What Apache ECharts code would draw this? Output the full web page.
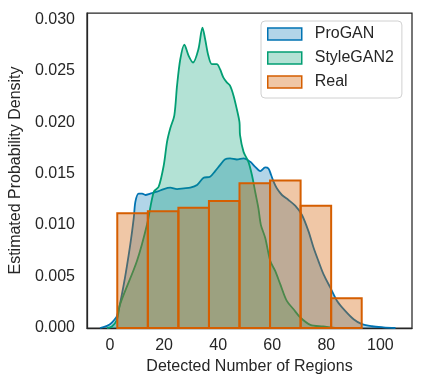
<!DOCTYPE html>
<html lang="en">
<head>
<meta charset="UTF-8">
<title>Detected regions</title>
<style>
  * { margin: 0; padding: 0; }
  body { background: #fff; }
  #chart { width: 423px; height: 389px; }
</style>
</head>
<body>
<div id="chart"></div>
<script src="https://cdn.jsdelivr.net/npm/echarts@6/dist/echarts.min.js"></script>
<script>
// KDE of ProGAN
const proganX = [-3.7, -1.1, 0.7, 2.6, 5.1, 7.5, 8.8, 9.4, 10.6, 11.9, 13.1, 14.9, 17.4, 19.9, 22.3, 24.8, 27.3, 29.7, 32.2, 34.6, 37.0, 38.9, 40.7, 42.6, 44.4, 46.9, 49.4, 51.9, 53.7, 55.6, 57.4, 58.6, 59.6, 60.5, 61.7, 63.6, 66.0, 68.5, 71.0, 73.4, 75.3, 77.1, 79.0, 81.5, 84.0, 87.0, 90.1, 93.2, 96.9, 101.1, 105.6];
const proganY = [0, 0.00021, 0.00053, 0.00118, 0.00424, 0.00811, 0.01069, 0.01227, 0.01305, 0.01305, 0.01292, 0.01305, 0.01324, 0.01350, 0.01363, 0.01350, 0.01357, 0.01363, 0.01389, 0.01459, 0.01469, 0.01524, 0.01582, 0.01640, 0.01647, 0.01637, 0.01647, 0.01614, 0.01566, 0.01524, 0.01560, 0.01550, 0.01486, 0.01421, 0.01357, 0.01292, 0.01244, 0.01188, 0.01098, 0.00941, 0.00779, 0.00650, 0.00521, 0.00392, 0.00263, 0.00166, 0.00085, 0.00037, 0.00017, 0.00007, 0];

// KDE of StyleGAN2
const styleganX = [-1.1, 0.7, 2.6, 3.7, 10.0, 13.7, 16.2, 18.0, 19.9, 21.1, 22.3, 23.8, 24.8, 26.0, 27.5, 29.1, 30.7, 32.7, 34.2, 35.2, 36.4, 37.7, 39.5, 40.7, 41.9, 43.2, 44.4, 45.7, 46.9, 47.9, 48.1, 49.4, 51.2, 52.5, 53.7, 54.9, 55.8, 57.4, 59.3, 61.1, 63.0, 65.4, 67.9, 70.4, 74.1, 78.9, 83.3];
const styleganY = [0, 0.00015, 0.00082, 0.00227, 0.00653, 0.01005, 0.01324, 0.01372, 0.01582, 0.01808, 0.01940, 0.02066, 0.02354, 0.02611, 0.02753, 0.02644, 0.02579, 0.02708, 0.02918, 0.02805, 0.02644, 0.02563, 0.02563, 0.02514, 0.02434, 0.02386, 0.02354, 0.02257, 0.02127, 0.01998, 0.01873, 0.01711, 0.01614, 0.01486, 0.01324, 0.01163, 0.01002, 0.00876, 0.00650, 0.00554, 0.00424, 0.00263, 0.00182, 0.00102, 0.00031, 0.00015, 0];

// histogram of Real
const realEdges = [2.7, 14.0, 25.3, 36.6, 47.9, 59.2, 70.5, 81.8, 93.1];
const realDensity = [0.01115, 0.01134, 0.01169, 0.01234, 0.01405, 0.01434, 0.01188, 0.00288];

const xTicks = [0, 20, 40, 60, 80, 100];
const yTicks = [0, 0.005, 0.010, 0.015, 0.020, 0.025, 0.030];

const blue = '#0173b2', green = '#029e73', orange = '#d55e00';
const ink = '#262626';
const font = 'Liberation Sans, Arial, sans-serif';
const fs = 16;

const zip = (xs, ys) => xs.map((x, i) => [x, ys[i]]);
const bins = realDensity.map((d, i) => [realEdges[i], realEdges[i + 1], d]);

const chart = echarts.init(document.getElementById('chart'));

chart.setOption({
  animation: false,
  textStyle: { fontFamily: font },
  grid: {
    left: 87, right: 11, top: 13, bottom: 61,
    show: true, borderColor: ink, borderWidth: 1.25,
    outerBoundsMode: 'none'
  },
  legend: {
    left: 261, top: 21,
    orient: 'vertical',
    itemWidth: 34, itemHeight: 12, itemGap: 8,
    padding: [5, 8, 8, 6],
    borderColor: '#d0d0d0', borderWidth: 1, borderRadius: 4,
    backgroundColor: 'rgba(255,255,255,0.8)',
    textStyle: { fontSize: fs, color: ink, fontFamily: font, padding: [0, 0, 0, 8] },
    data: [
      { name: 'ProGAN', icon: 'rect', itemStyle: { color: 'rgba(1,115,178,0.3)', borderColor: blue, borderWidth: 1.5 } },
      { name: 'StyleGAN2', icon: 'rect', itemStyle: { color: 'rgba(2,158,115,0.3)', borderColor: green, borderWidth: 1.5 } },
      { name: 'Real', icon: 'rect', itemStyle: { color: 'rgba(213,94,0,0.35)', borderColor: orange, borderWidth: 1.5 } }
    ]
  },
  xAxis: {
    type: 'value', min: -8.5, max: 111.7,
    name: 'Detected Number of Regions', nameLocation: 'middle', nameGap: 31,
    nameTextStyle: { fontSize: fs, color: ink, fontFamily: font },
    axisLine: { show: true, onZero: false, lineStyle: { color: ink, width: 1.25 } },
    axisTick: { show: false },
    splitLine: { show: false },
    axisLabel: { customValues: xTicks, fontSize: fs, color: ink, margin: 10, fontFamily: font }
  },
  yAxis: {
    type: 'value', min: 0, max: 0.0306,
    name: 'Estimated Probability Density', nameLocation: 'middle', nameGap: 55,
    nameTextStyle: { fontSize: fs, color: ink, fontFamily: font },
    axisLine: { show: true, onZero: false, lineStyle: { color: ink, width: 1.25 } },
    axisTick: { show: false },
    splitLine: { show: false },
    axisLabel: {
      customValues: yTicks, fontSize: fs, color: ink, margin: 12, fontFamily: font,
      formatter: v => v.toFixed(3)
    }
  },
  series: [
    {
      name: 'ProGAN', type: 'line', data: zip(proganX, proganY),
      smooth: 0.3, showSymbol: false, z: 2,
      lineStyle: { color: blue, width: 1.8 },
      itemStyle: { color: blue },
      areaStyle: { color: blue, opacity: 0.3 }
    },
    {
      name: 'StyleGAN2', type: 'line', data: zip(styleganX, styleganY),
      smooth: 0.3, showSymbol: false, z: 3,
      lineStyle: { color: green, width: 1.8 },
      itemStyle: { color: green },
      areaStyle: { color: green, opacity: 0.3 }
    },
    {
      name: 'Real', type: 'custom', data: bins, z: 4,
      itemStyle: { color: orange },
      renderItem: (params, api) => {
        const p0 = api.coord([api.value(0), 0]);
        const p1 = api.coord([api.value(1), api.value(2)]);
        return {
          type: 'rect',
          shape: { x: p0[0], y: p1[1], width: p1[0] - p0[0], height: p0[1] - p1[1] },
          style: { fill: 'rgba(213,94,0,0.35)', stroke: orange, lineWidth: 2 }
        };
      }
    }
  ]
});
</script>
</body>
</html>
